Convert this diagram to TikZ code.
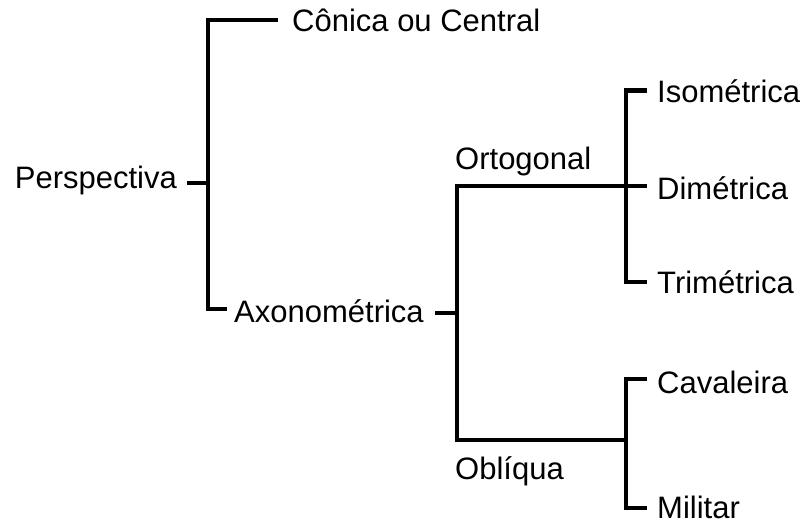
\documentclass[tikz,border=0pt]{standalone}
\usepackage{fontspec}
\setmainfont{Liberation Sans}
\begin{document}
\begin{tikzpicture}[x=1pt,y=-1pt,
  lbl/.style={anchor=base west,inner sep=0pt,font=\fontsize{31}{36}\selectfont},
  lbr/.style={anchor=base east,inner sep=0pt,font=\fontsize{31}{36}\selectfont},
  br/.style={line width=4.2pt,line join=miter,line cap=butt}]
\useasboundingbox[fill=white] (0,0) rectangle (806,524);
% labels
\node[lbr] (persp) at (177,189) {Perspectiva};
\node[lbl] (conica) at (292,32) {Cônica ou Central};
\node[lbl] (axon) at (234,322) {Axonométrica};
\node[lbl] (orto) at (455,170) {Ortogonal};
\node[lbl] (obli) at (455,479) {Oblíqua};
\node[lbl] (iso) at (657,103) {Isométrica};
\node[lbl] (dim) at (657,200) {Dimétrica};
\node[lbl] (tri) at (657,293) {Trimétrica};
\node[lbl] (cav) at (657,393) {Cavaleira};
\node[lbl] (mil) at (657,518) {Militar};
% junction points
\coordinate (pS) at (187,183);
\coordinate (pJ) at (208,183);
\coordinate (cT) at (208,20);
\coordinate (cE) at (278,20);
\coordinate (aB) at (208,309);
\coordinate (aE) at (227,309);
\coordinate (aS) at (435,313);
\coordinate (aJ) at (457,313);
\coordinate (oT) at (457,186);
\coordinate (oE) at (626,186);
\coordinate (dS) at (647,186);
\coordinate (qB) at (457,440);
\coordinate (qE) at (626,440);
\coordinate (iT) at (626,90.5);
\coordinate (iS) at (647,90.5);
\coordinate (tB) at (626,282);
\coordinate (tS) at (647,282);
\coordinate (cvT) at (626,379);
\coordinate (cvS) at (647,379);
\coordinate (mB) at (626,508);
\coordinate (mS) at (647,508);
% connectors
\draw[br] (pS) -- (pJ);
\draw[br] (cE) -- (cT) -- (aB) -- (aE);
\draw[br] (aS) -- (aJ);
\draw[br] (oE) -- (oT) -- (qB) -- (qE);
\draw[br] (oE) -- (dS);
\draw[br] (iS) -- (iT) -- (tB) -- (tS);
\draw[br] (cvS) -- (cvT) -- (mB) -- (mS);
\end{tikzpicture}
\end{document}
